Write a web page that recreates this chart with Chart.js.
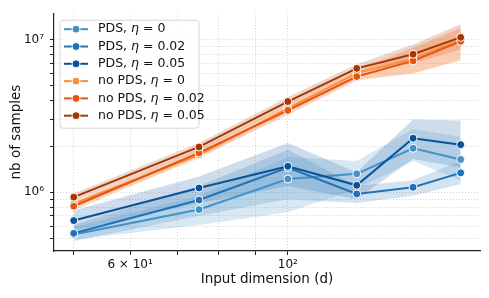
<!DOCTYPE html>
<html>
<head>
<meta charset="utf-8">
<script src="https://cdn.jsdelivr.net/npm/chart.js@4.4.1/dist/chart.umd.min.js"></script>
<style>
  html, body { margin: 0; padding: 0; background: #fff; }
  #wrap { width: 489px; height: 298px; }
</style>
</head>
<body>
<div id="wrap"><canvas id="myChart"></canvas></div>
<script>
// input dimension (d)
const dims = [50, 75, 100, 125, 150, 175];

// PDS
const pds0     = [5.28e5, 7.7e5, 1.22e6, 1.32e6, 1.94e6, 1.64e6];
const pds0Lo   = [4.9e5, 6.1e5, 7.4e5, 1.05e6, 1.6e6, 1.2e6];
const pds0Hi   = [5.9e5, 9.5e5, 1.7e6, 1.6e6, 2.6e6, 2.3e6];
const pds002   = [5.38e5, 8.89e5, 1.45e6, 9.75e5, 1.077e6, 1.34e6];
const pds002Lo = [4.8e5, 7.0e5, 9.0e5, 8.5e5, 9.5e5, 1.13e6];
const pds002Hi = [6.1e5, 1.1e6, 1.9e6, 1.1e6, 1.2e6, 1.6e6];
const pds005   = [6.52e5, 1.066e6, 1.48e6, 1.11e6, 2.26e6, 2.05e6];
const pds005Lo = [5.6e5, 8.5e5, 1.1e6, 9.0e5, 1.65e6, 1.45e6];
const pds005Hi = [7.6e5, 1.27e6, 2.1e6, 1.35e6, 3.0e6, 2.95e6];

// no PDS
const noPds0     = [8.4e5, 1.76e6, 3.55e6, 6.03e6, 7.5e6, 1.0e7];
const noPds0Lo   = [7.9e5, 1.66e6, 3.3e6, 5.5e6, 6.0e6, 7.4e6];
const noPds0Hi   = [8.9e5, 1.86e6, 3.8e6, 6.5e6, 8.9e6, 1.2e7];
const noPds002   = [8.09e5, 1.81e6, 3.44e6, 5.73e6, 7.26e6, 9.75e6];
const noPds002Lo = [7.6e5, 1.7e6, 3.2e6, 5.4e6, 6.0e6, 7.3e6];
const noPds002Hi = [8.6e5, 1.92e6, 3.7e6, 6.1e6, 8.8e6, 1.18e7];
const noPds005   = [9.29e5, 1.98e6, 3.93e6, 6.48e6, 8.02e6, 1.034e7];
const noPds005Lo = [8.8e5, 1.87e6, 3.7e6, 6.1e6, 7.0e6, 8.6e6];
const noPds005Hi = [9.8e5, 2.1e6, 4.2e6, 6.9e6, 9.3e6, 1.26e7];

const xTicks = [50, 60, 70, 80, 90, 100];
const xTickLabels = {60: '6 × 10¹', 100: '10²'};
const yTicks = [5e5, 6e5, 7e5, 8e5, 9e5, 1e6, 2e6, 3e6, 4e6, 5e6, 6e6, 7e6, 8e6, 9e6, 1e7];
const yTickLabels = {1000000: '10⁶', 10000000: '10⁷'};

const series = [
  {label: 'PDS, η = 0',       mean: pds0,     lo: pds0Lo,     hi: pds0Hi,     color: [66, 146, 198]},
  {label: 'PDS, η = 0.02',    mean: pds002,   lo: pds002Lo,   hi: pds002Hi,   color: [33, 113, 181]},
  {label: 'PDS, η = 0.05',    mean: pds005,   lo: pds005Lo,   hi: pds005Hi,   color: [8, 81, 156]},
  {label: 'no PDS, η = 0',    mean: noPds0,   lo: noPds0Lo,   hi: noPds0Hi,   color: [253, 141, 60]},
  {label: 'no PDS, η = 0.02', mean: noPds002, lo: noPds002Lo, hi: noPds002Hi, color: [230, 85, 13]},
  {label: 'no PDS, η = 0.05', mean: noPds005, lo: noPds005Lo, hi: noPds005Hi, color: [166, 54, 3]}
];

function pts(arr) {
  return arr.map((v, i) => ({x: dims[i], y: v}));
}
function rgb(c, a) {
  return a === undefined ? `rgb(${c[0]}, ${c[1]}, ${c[2]})` : `rgba(${c[0]}, ${c[1]}, ${c[2]}, ${a})`;
}

const datasets = [];
// error bands first (upper fills to the lower one right after it)
series.forEach(s => {
  datasets.push({
    isBand: true, data: pts(s.hi), fill: '+1', backgroundColor: rgb(s.color, 0.2),
    borderWidth: 0, pointRadius: 0, pointHoverRadius: 0, order: 100
  });
  datasets.push({
    isBand: true, data: pts(s.lo), fill: false,
    borderWidth: 0, pointRadius: 0, pointHoverRadius: 0, order: 100
  });
});
series.forEach((s, i) => {
  datasets.push({
    label: s.label, data: pts(s.mean), fill: false,
    borderColor: rgb(s.color), backgroundColor: rgb(s.color),
    borderWidth: 2, pointRadius: 4, pointBorderColor: '#fff', pointBorderWidth: 1,
    pointBackgroundColor: rgb(s.color), order: 10 - i
  });
});

// legend drawn inside the plot, matplotlib style
const legendInside = {
  id: 'legendInside',
  afterDraw(chart) {
    const ctx = chart.ctx;
    const area = chart.chartArea;
    const items = chart.data.datasets.filter(d => d.label && !d.isBand);
    const x0 = area.left + 6, y0 = area.top + 7, w = 139, h = 108;
    const rowH = 17.3;
    ctx.save();
    ctx.beginPath();
    ctx.roundRect(x0, y0, w, h, 3);
    ctx.fillStyle = 'rgba(255,255,255,0.8)';
    ctx.fill();
    ctx.strokeStyle = '#d6d6d6';
    ctx.lineWidth = 1;
    ctx.stroke();
    items.forEach((d, i) => {
      const y = y0 + 9 + i * rowH;
      ctx.strokeStyle = d.borderColor;
      ctx.lineWidth = 2;
      ctx.beginPath();
      ctx.moveTo(x0 + 4, y);
      ctx.lineTo(x0 + 28, y);
      ctx.stroke();
      ctx.beginPath();
      ctx.arc(x0 + 16, y, 4, 0, Math.PI * 2);
      ctx.fillStyle = d.borderColor;
      ctx.fill();
      ctx.strokeStyle = '#fff';
      ctx.lineWidth = 1;
      ctx.stroke();
      // text with italic eta
      const parts = d.label.split('η');
      let tx = x0 + 38;
      ctx.fillStyle = '#111';
      ctx.textBaseline = 'middle';
      ctx.textAlign = 'left';
      ctx.font = '12.5px "DejaVu Sans"';
      ctx.fillText(parts[0], tx, y);
      tx += ctx.measureText(parts[0]).width;
      ctx.font = 'italic 12.5px "DejaVu Sans"';
      ctx.fillText('η', tx, y);
      tx += ctx.measureText('η').width;
      ctx.font = '12.5px "DejaVu Sans"';
      ctx.fillText(parts[1], tx, y);
    });
    ctx.restore();
  }
};

Chart.defaults.font.family = '"DejaVu Sans", sans-serif';
Chart.defaults.color = '#111';

const myChart = new Chart(document.getElementById('myChart'), {
  type: 'line',
  data: {datasets: datasets},
  options: {
    responsive: true,
    maintainAspectRatio: false,
    animation: false,
    layout: {padding: {top: 8, right: 9, left: 0, bottom: 0}},
    plugins: {
      legend: {display: false},
      tooltip: {enabled: false}
    },
    scales: {
      x: {
        type: 'logarithmic',
        min: 46.9,
        max: 186.3,
        afterBuildTicks: scale => { scale.ticks = xTicks.map(v => ({value: v})); },
        afterFit: scale => { scale.height = 47; },
        ticks: {
          autoSkip: false, maxRotation: 0, padding: 3,
          font: {size: 12}, color: '#111',
          callback: v => xTickLabels[v] || ''
        },
        grid: {color: '#d2d2d2', lineWidth: 1, tickLength: 4, tickColor: '#222', tickWidth: 1},
        border: {display: true, color: '#222', width: 1.2, dash: [1, 2]},
        title: {display: true, text: 'Input dimension (d)', font: {size: 13.5}, color: '#111', padding: {top: 0, bottom: 10}}
      },
      y: {
        type: 'logarithmic',
        min: 4.12e5,
        max: 1.49e7,
        afterBuildTicks: scale => { scale.ticks = yTicks.map(v => ({value: v})); },
        afterFit: scale => { scale.width = 54; },
        ticks: {
          autoSkip: false, padding: 6,
          font: {size: 12}, color: '#111',
          callback: v => yTickLabels[v] || ''
        },
        grid: {color: '#d2d2d2', lineWidth: 1, tickLength: 4, tickColor: '#222', tickWidth: 1},
        border: {display: true, color: '#222', width: 1.2, dash: [1, 2]},
        title: {display: true, text: 'nb of samples', font: {size: 13.5}, color: '#111', padding: {top: 8, bottom: 0}}
      }
    }
  },
  plugins: [legendInside]
});
</script>
</body>
</html>
